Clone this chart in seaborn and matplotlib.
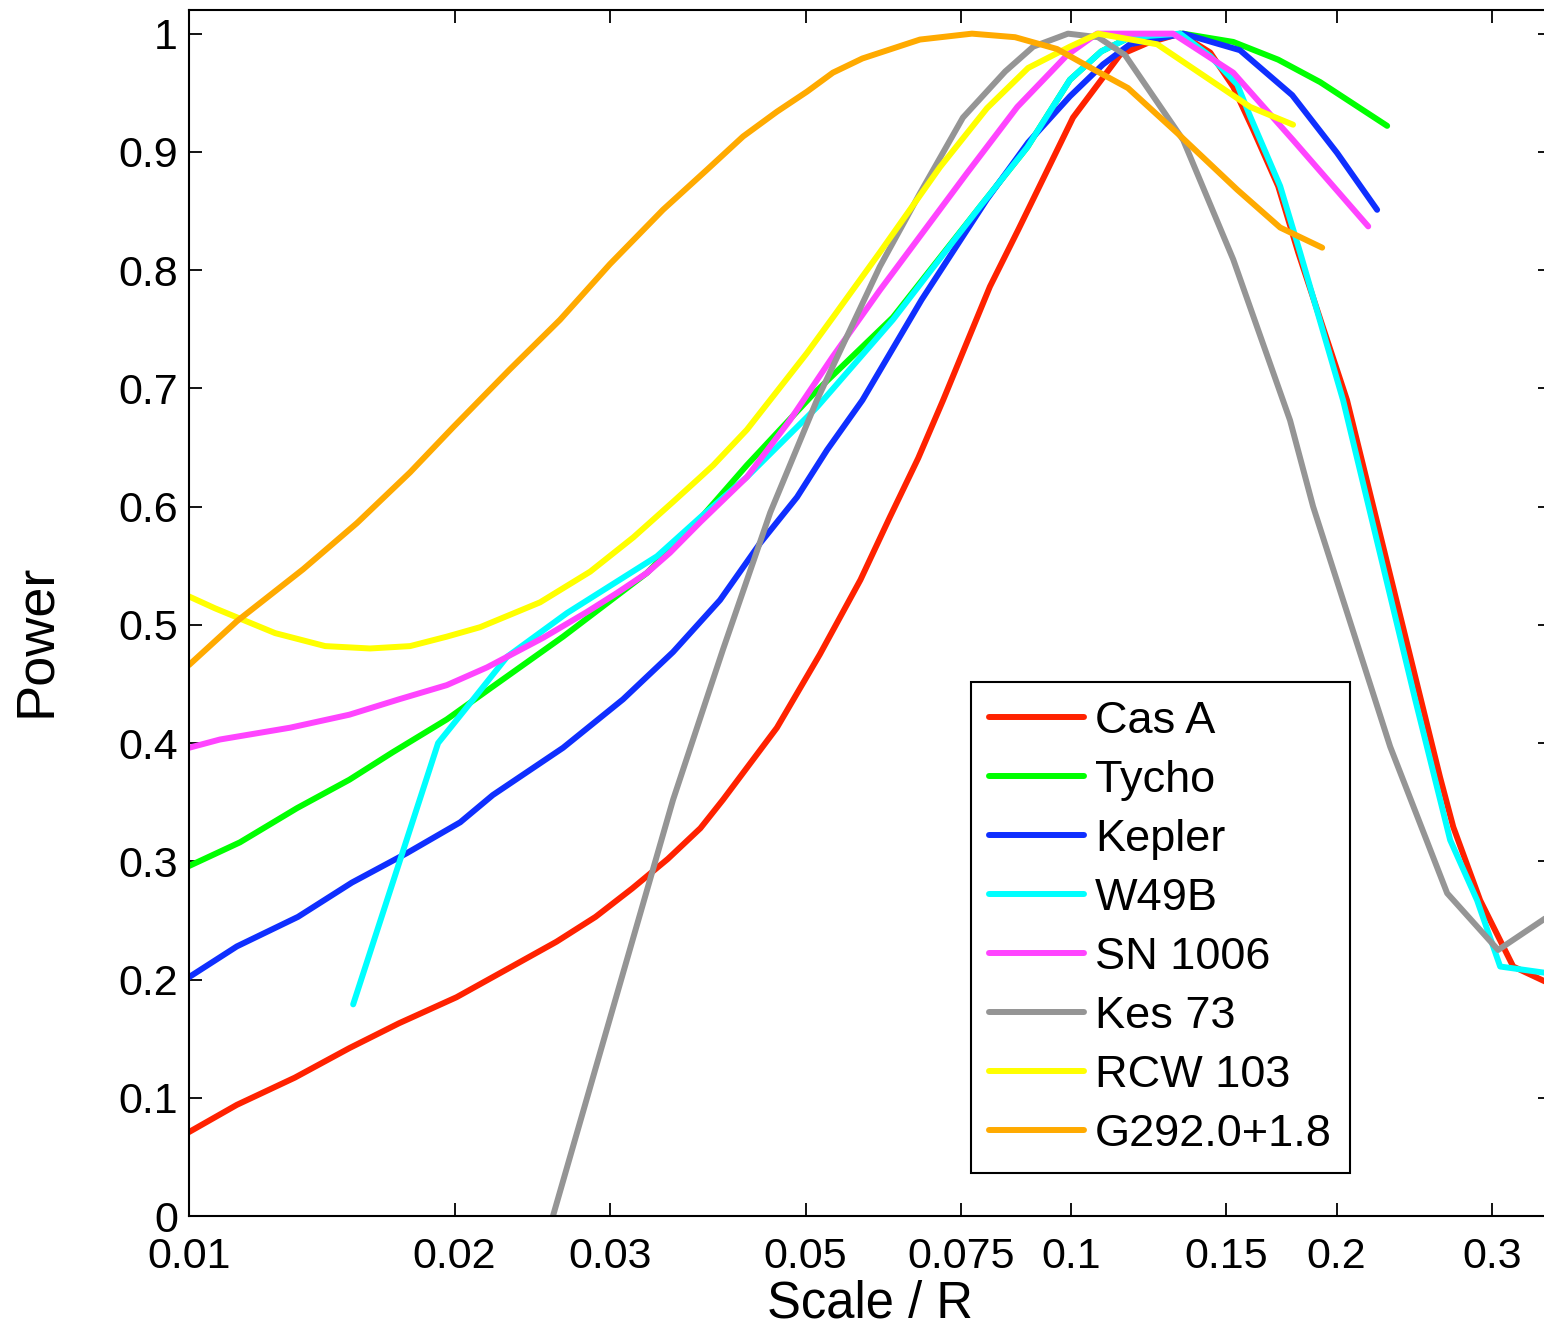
import matplotlib
matplotlib.use("Agg")
import matplotlib.pyplot as plt
import numpy as np
import pandas as pd
import seaborn as sns
from matplotlib.ticker import FixedLocator, FixedFormatter, NullLocator

# Cas A
casa_x = [0.0100, 0.01133, 0.01318, 0.0152, 0.0173, 0.0201, 0.0231, 0.0261, 0.0289, 0.0318,
          0.0349, 0.0380, 0.0403, 0.0464, 0.0519, 0.0577, 0.0623, 0.0671, 0.0716, 0.0762,
          0.0809, 0.0871, 0.1005, 0.1136, 0.1220, 0.1329, 0.1438, 0.1527, 0.1608, 0.1717,
          0.1809, 0.2055, 0.2620, 0.2712, 0.2909, 0.3171, 0.3500]
casa_y = [0.071, 0.094, 0.117, 0.142, 0.163, 0.185, 0.210, 0.232, 0.253, 0.277,
          0.302, 0.328, 0.352, 0.413, 0.475, 0.538, 0.591, 0.641, 0.690, 0.739,
          0.786, 0.834, 0.929, 0.982, 0.992, 1.000, 0.984, 0.955, 0.919, 0.871,
          0.815, 0.690, 0.371, 0.329, 0.267, 0.211, 0.196]

# Tycho
tycho_x = [0.0100, 0.01142, 0.01326, 0.0152, 0.0170, 0.0196, 0.02212, 0.02655, 0.03306, 0.0380,
           0.0429, 0.0510, 0.0628, 0.0789, 0.0892, 0.0997, 0.1082, 0.1166, 0.1339, 0.1527,
           0.1717, 0.1916, 0.2282]
tycho_y = [0.296, 0.316, 0.345, 0.369, 0.392, 0.420, 0.448, 0.490, 0.544, 0.590,
           0.635, 0.695, 0.760, 0.854, 0.904, 0.961, 0.985, 0.997, 1.000, 0.993,
           0.978, 0.959, 0.922]

# Kepler
kepler_x = [0.0100, 0.01133, 0.01329, 0.0153, 0.01767, 0.0203, 0.0221, 0.02655, 0.03105, 0.03538,
            0.0400, 0.0444, 0.0489, 0.0529, 0.0580, 0.0677, 0.0803, 0.0894, 0.0997, 0.1087,
            0.1166, 0.1340, 0.1554, 0.1781, 0.2003, 0.2223]
kepler_y = [0.202, 0.228, 0.253, 0.282, 0.307, 0.333, 0.356, 0.396, 0.437, 0.477,
            0.521, 0.569, 0.608, 0.648, 0.690, 0.775, 0.860, 0.908, 0.947, 0.974,
            0.991, 1.000, 0.986, 0.948, 0.899, 0.851]

# W49B
w49b_x = [0.01535, 0.01916, 0.0210, 0.02294, 0.02683, 0.03393, 0.0380, 0.0429, 0.0515, 0.0628,
          0.0789, 0.0892, 0.0997, 0.1082, 0.1166, 0.1329, 0.1438, 0.1543, 0.1596, 0.1726,
          0.1818, 0.2034, 0.2455, 0.2690, 0.2886, 0.3065, 0.3500]
w49b_y = [0.179, 0.400, 0.437, 0.473, 0.510, 0.558, 0.591, 0.625, 0.684, 0.758,
          0.854, 0.904, 0.961, 0.985, 0.997, 1.000, 0.981, 0.957, 0.930, 0.871,
          0.815, 0.690, 0.437, 0.318, 0.267, 0.211, 0.205]

# SN 1006
sn1006_x = [0.0100, 0.01084, 0.01302, 0.0152, 0.0173, 0.0196, 0.02177, 0.02520, 0.02827, 0.03057,
            0.03306, 0.03510, 0.0380, 0.0429, 0.0480, 0.0537, 0.0607, 0.0762, 0.0869, 0.0990,
            0.1070, 0.1305, 0.1527, 0.1785, 0.2172]
sn1006_y = [0.396, 0.403, 0.413, 0.424, 0.437, 0.449, 0.464, 0.489, 0.511, 0.527,
            0.544, 0.561, 0.587, 0.625, 0.673, 0.727, 0.783, 0.882, 0.938, 0.982,
            1.000, 1.000, 0.967, 0.910, 0.837]

# Kes 73
kes73_x = [0.02586, 0.03538, 0.0403, 0.0456, 0.0515, 0.0607, 0.0674, 0.0754, 0.0842, 0.0906,
           0.0992, 0.1073, 0.1151, 0.1340, 0.1527, 0.1771, 0.1881, 0.2034, 0.2300, 0.2669,
           0.3049, 0.3500]
kes73_y = [0.000, 0.352, 0.479, 0.595, 0.690, 0.803, 0.865, 0.929, 0.968, 0.989,
           1.000, 0.997, 0.982, 0.910, 0.809, 0.673, 0.600, 0.521, 0.397, 0.273,
           0.225, 0.255]

# RCW 103
rcw103_x = [0.0100, 0.01070, 0.01252, 0.01427, 0.01604, 0.01781, 0.0196, 0.02138, 0.0250, 0.0285,
            0.0319, 0.03538, 0.0380, 0.0393, 0.0429, 0.0502, 0.0537, 0.0607, 0.0710, 0.0803,
            0.0894, 0.0997, 0.1073, 0.1252, 0.1596, 0.1785]
rcw103_y = [0.524, 0.514, 0.493, 0.482, 0.480, 0.482, 0.490, 0.498, 0.519, 0.545,
            0.574, 0.604, 0.625, 0.635, 0.665, 0.730, 0.760, 0.815, 0.887, 0.937,
            0.971, 0.989, 1.000, 0.991, 0.938, 0.923]

# G292.0+1.8
g292_x = [0.0100, 0.01133, 0.01347, 0.0155, 0.01781, 0.01992, 0.0231, 0.02634, 0.0300, 0.03446,
          0.03867, 0.04247, 0.0464, 0.0502, 0.0537, 0.0580, 0.0674, 0.0772, 0.0864, 0.0964,
          0.1059, 0.1160, 0.1319, 0.1543, 0.1726, 0.1926]
g292_y = [0.466, 0.503, 0.547, 0.586, 0.629, 0.667, 0.716, 0.758, 0.805, 0.851,
          0.885, 0.913, 0.934, 0.951, 0.967, 0.979, 0.995, 1.000, 0.997, 0.987,
          0.970, 0.954, 0.916, 0.868, 0.836, 0.819]

names = ["Cas A", "Tycho", "Kepler", "W49B", "SN 1006", "Kes 73", "RCW 103", "G292.0+1.8"]
series_x = [casa_x, tycho_x, kepler_x, w49b_x, sn1006_x, kes73_x, rcw103_x, g292_x]
series_y = [casa_y, tycho_y, kepler_y, w49b_y, sn1006_y, kes73_y, rcw103_y, g292_y]
colors = ["#FF2200", "#00FF00", "#0F2FFF", "#00FFFF", "#FF44FF", "#959595", "#FFFF00", "#FFAA00"]

xticks = [0.01, 0.02, 0.03, 0.05, 0.075, 0.1, 0.15, 0.2, 0.3]
xtick_labels = ["0.01", "0.02", "0.03", "0.05", "0.075", "0.1", "0.15", "0.2", "0.3"]
yticks = [0, 0.1, 0.2, 0.3, 0.4, 0.5, 0.6, 0.7, 0.8, 0.9, 1]
ytick_labels = ["0", "0.1", "0.2", "0.3", "0.4", "0.5", "0.6", "0.7", "0.8", "0.9", "1"]

rows = []
for name, xs, ys in zip(names, series_x, series_y):
    for xv, yv in zip(xs, ys):
        rows.append({"scale": xv, "power": yv, "snr": name})
df = pd.DataFrame(rows)

sns.set_theme(style="ticks")
plt.rcParams["font.family"] = ["Liberation Sans", "DejaVu Sans"]
plt.rcParams["text.color"] = "black"
plt.rcParams["axes.labelcolor"] = "black"

W, H = 1544, 1326
fig = plt.figure(figsize=(W / 100, H / 100), dpi=100)
fig.patch.set_facecolor("white")
ax = fig.add_axes([189 / W, 110 / H, 1362 / W, 1206 / H])
ax.set_xscale("log")

sns.lineplot(
    data=df, x="scale", y="power", hue="snr", hue_order=names,
    palette=dict(zip(names, colors)), lw=4.3, estimator=None, sort=False, ax=ax,
)

ax.set_xlim(0.01, 0.35)
ax.set_ylim(0, 1.02)
ax.xaxis.set_major_locator(FixedLocator(xticks))
ax.xaxis.set_major_formatter(FixedFormatter(xtick_labels))
ax.xaxis.set_minor_locator(NullLocator())
ax.set_yticks(yticks)
ax.set_yticklabels(ytick_labels)

ax.tick_params(axis="both", which="major", direction="in", length=9.5, width=1.3,
               top=True, right=True, labelsize=31, color="black", labelcolor="black")
ax.tick_params(axis="x", pad=15)
ax.tick_params(axis="y", pad=8)
for sp in ax.spines.values():
    sp.set_linewidth(1.5)
    sp.set_color("black")

ax.set_xlabel("Scale / R", fontsize=36.5)
ax.set_ylabel("Power", fontsize=39)
ax.xaxis.set_label_coords(0.5, -0.053)
ax.yaxis.set_label_coords(-0.094, 0.477)

leg = ax.legend(
    loc="lower left", bbox_to_anchor=(0.574, 0.0357), fontsize=32.5,
    frameon=True, fancybox=False, edgecolor="black", framealpha=1,
    handlelength=2.1, handletextpad=0.25, labelspacing=0.4, borderpad=0.4,
    borderaxespad=0,
)
leg.get_frame().set_linewidth(1.5)
for line in leg.get_lines():
    line.set_linewidth(4.3)
for txt in leg.get_texts():
    txt.set_color("black")

fig.savefig("out.png", dpi=100, facecolor="white")
